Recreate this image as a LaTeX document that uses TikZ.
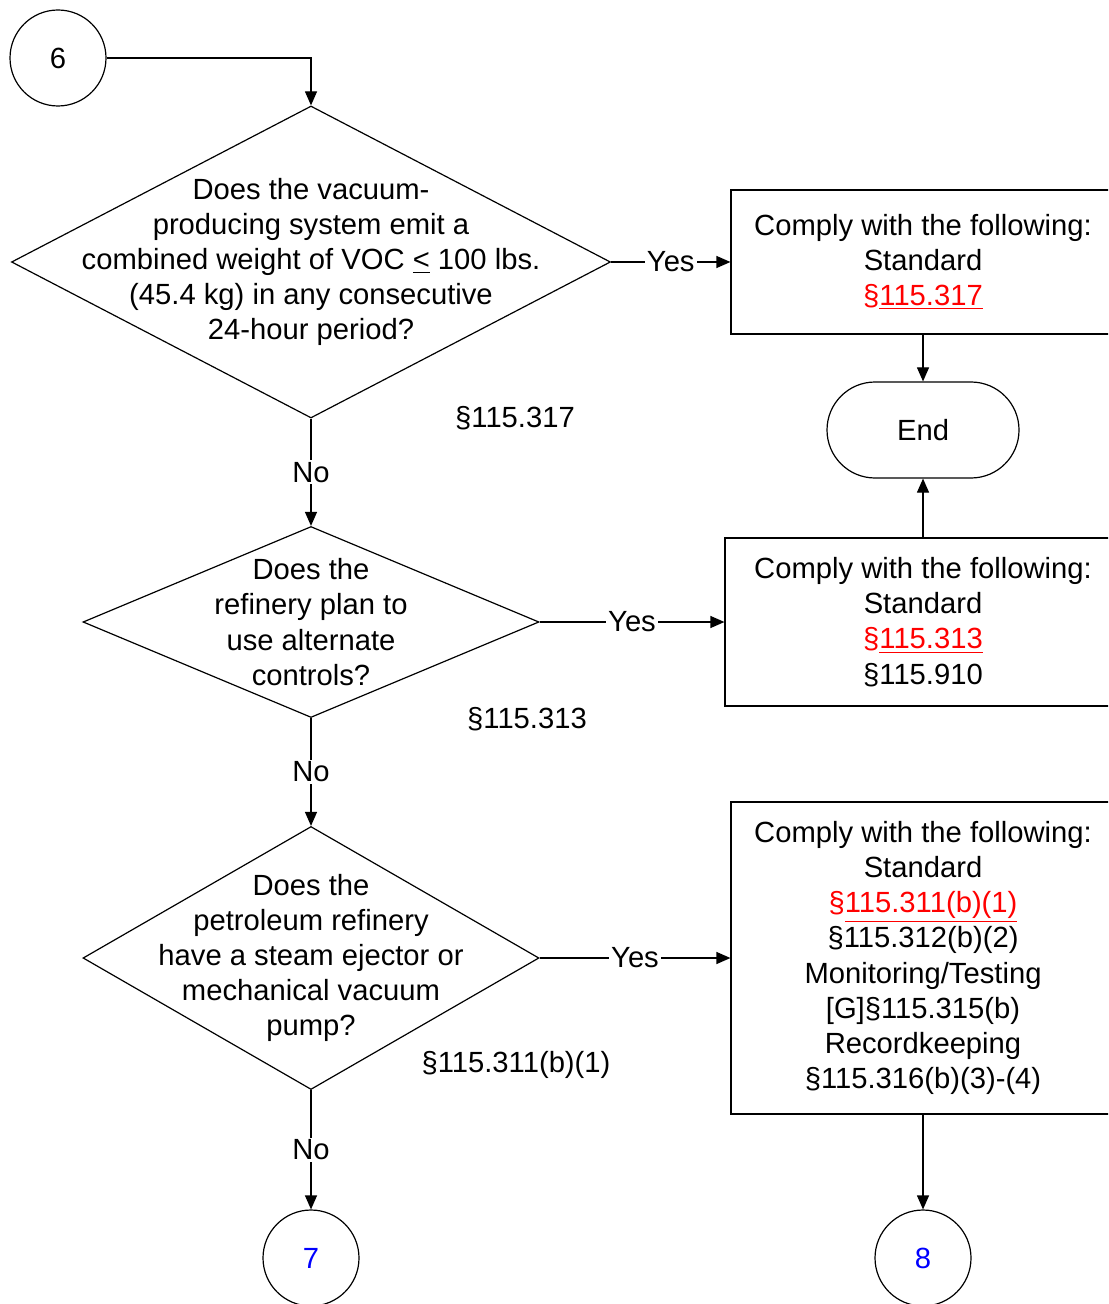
\documentclass[tikz,border=0pt]{standalone}
\usepackage{fontspec}
\setmainfont{Liberation Sans}
\usetikzlibrary{shapes.geometric,arrows.meta}

\newcommand{\reflink}[1]{\textcolor{red}{§\underline{#1}}}

\begin{document}
\begin{tikzpicture}[x=0.5pt,y=-0.5pt,
    every node/.style={font=\fontsize{14.6}{17.6}\selectfont},
    line/.style={line width=0.6pt},
    arr/.style={line,-{Triangle[length=7pt,width=6pt]}},
    decision/.style={draw,line,diamond,inner sep=0pt},
    stdbox/.style={draw,line,rectangle,align=center,inner sep=2pt},
    terminal/.style={draw,line,rectangle,rounded corners=24pt,minimum width=96pt,minimum height=48pt},
    connector/.style={draw,line,circle,minimum size=48pt,inner sep=0pt},
    tag/.style={fill=white,inner sep=1pt,midway}]

        % page size, the boxes on the right run off the edge
        \useasboundingbox (0,0) rectangle (1108,1304);
        \clip (0,0) rectangle (1108,1304);

        % off-page connectors
        \node[connector] (c6) at (58,58) {6};
        \node[connector,text=blue] (c7) at (311,1258) {7};
        \node[connector,text=blue] (c8) at (923,1258) {8};

        % the three questions
        \node[decision,minimum width=299.5pt,minimum height=156pt] (q1) at (311,262) {};
        \node[align=center] (q1text) at (q1) {Does the vacuum-\\producing system emit a\\combined weight of VOC \underline{<} 100 lbs.\\(45.4 kg) in any consecutive\\24-hour period?};
        \node[decision,minimum width=228pt,minimum height=95.5pt] (q2) at (311,622) {};
        \node[align=center] (q2text) at (q2) {Does the\\refinery plan to\\use alternate\\controls?};
        \node[decision,minimum width=228pt,minimum height=131.5pt] (q3) at (311,958) {};
        \node[align=center] (q3text) at (q3) {Does the\\petroleum refinery\\have a steam ejector or\\mechanical vacuum\\pump?};

        % rule references beside the questions
        \node (r1) at (515,418) {§115.317};
        \node (r2) at (527,719) {§115.313};
        \node (r3) at (516,1065) {§115.311(b)(1)};

        % what to comply with
        \node[stdbox,minimum width=192pt,minimum height=72pt] (s1) at (923,262)
            {Comply with the following:\\Standard\\\reflink{115.317}};
        \node[stdbox,minimum width=198pt,minimum height=84pt] (s2) at (923,622)
            {Comply with the following:\\Standard\\\reflink{115.313}\\§115.910};
        \node[stdbox,minimum width=192pt,minimum height=156pt] (s3) at (923,958)
            {Comply with the following:\\Standard\\\reflink{115.311(b)(1)}\\§115.312(b)(2)\\Monitoring/Testing\\{[G]}§115.315(b)\\Recordkeeping\\§115.316(b)(3)-(4)};

        \node[terminal] (end) at (923,430) {End};

        % connectors
        \draw[arr] (c6) -| (q1.north);
        \draw[arr] (q1.east) -- node[tag] {Yes} (s1.west);
        \draw[arr] (q2.east) -- node[tag] {Yes} (s2.west);
        \draw[arr] (q3.east) -- node[tag] {Yes} (s3.west);
        \draw[arr] (q1.south) -- node[tag] {No} (q2.north);
        \draw[arr] (q2.south) -- node[tag] {No} (q3.north);
        \draw[arr] (q3.south) -- node[tag] {No} (c7);
        \draw[arr] (s1) -- (end);
        \draw[arr] (s2) -- (end);
        \draw[arr] (s3) -- (c8);

\end{tikzpicture}
\end{document}
